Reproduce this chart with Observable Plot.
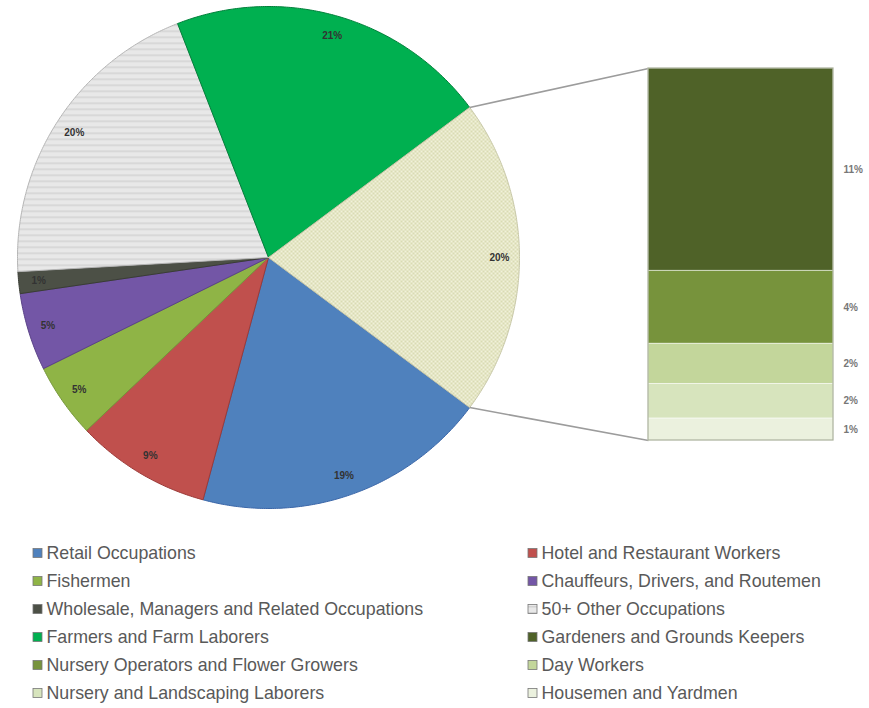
<!DOCTYPE html>
<html><head><meta charset="utf-8">
<script src="https://cdn.jsdelivr.net/npm/d3@7"></script>
<script src="https://cdn.jsdelivr.net/npm/@observablehq/plot@0.6"></script>
<style>body{margin:0;background:#fff;} #chart svg{display:block}</style>
</head><body><div id="chart"></div>
<script>
// ---- data ----
const categories = [
  "Retail Occupations",
  "Hotel and Restaurant Workers",
  "Fishermen",
  "Chauffeurs, Drivers, and Routemen",
  "Wholesale, Managers and Related Occupations",
  "50+ Other Occupations",
  "Farmers and Farm Laborers",
  "Gardeners and Grounds Keepers",
  "Nursery Operators and Flower Growers",
  "Day Workers",
  "Nursery and Landscaping Laborers",
  "Housemen and Yardmen"
];
const shares = [19.0, 8.7, 4.8, 5.0, 1.4, 20.0, 20.7, 11.1, 4.0, 2.2, 1.9, 1.2];
const inSecondary = [false, false, false, false, false, false, false, true, true, true, true, true];
const colors = ["#4F81BD", "#C0504D", "#8FB446", "#7356A6", "#4C5046", "url(#stripes)", "#00B050",
                "#4F6228", "#77933C", "#C3D69B", "#D7E4BD", "#EBF1DE"];
const edgeColors = ["#3A66A8", "#9B3A38", "#75963A", "#5A4287", "#3A3D35", "#B5B5B5", "#00803A",
                    "#4F6228", "#77933C", "#C3D69B", "#D7E4BD", "#EBF1DE"];
const otherFill = "url(#dots)";
const otherEdge = "#C8C8A8";

// ---- layout ----
const W = 869, H = 708;
const cx = 268, cy = 257, R = 251;
const bar = {x1: 648, x2: 833, top: 68, bottom: 440};
const legend = {colX: [33, 528], textDx: 13, y0: 553, dy: 28};

// ---- derived geometry ----
const otherTotal = d3.sum(shares.filter((v, i) => inSecondary[i]));
const pieItems = categories.map((c, i) => ({c, v: shares[i], fill: colors[i], edge: edgeColors[i]}))
  .filter((d, i) => !inSecondary[i]);
pieItems.push({c: "Other", v: otherTotal, fill: otherFill, edge: otherEdge, other: true});
const total = d3.sum(pieItems, d => d.v);
const pt = (deg, r) => {
  const a = deg * Math.PI / 180;
  return {x: cx + r * Math.sin(a), y: cy - r * Math.cos(a)};
};
let a = 90 + otherTotal / total * 180;
const slices = [];
for (const d of pieItems) {
  const a0 = d.other ? 90 - otherTotal / total * 180 : a;
  const a1 = a0 + d.v / total * 360;
  if (!d.other) a = a1;
  const n = Math.max(2, Math.ceil((a1 - a0) / 0.5));
  const pts = [{x: cx, y: cy}];
  for (let k = 0; k <= n; k++) pts.push(pt(a0 + (a1 - a0) * k / n, R));
  pts.push({x: cx, y: cy});
  const lab = pt((a0 + a1) / 2, R * 0.92);
  slices.push({...d, a0, a1, pts, lx: lab.x, ly: lab.y, label: Math.round(d.v) + "%"});
}
const otherSlice = slices.find(s => s.other);
const pTop = pt(otherSlice.a0, R), pBot = pt(otherSlice.a1, R);
const links = [
  {x1: pTop.x, y1: pTop.y, x2: bar.x1, y2: bar.top},
  {x1: pBot.x, y1: pBot.y, x2: bar.x1, y2: bar.bottom}
];
const barScale = d3.scaleLinear().domain([0, otherTotal]).range([bar.top, bar.bottom]);
let cum = 0;
const barSegs = [];
categories.forEach((c, i) => {
  if (!inSecondary[i]) return;
  barSegs.push({c, x1: bar.x1, x2: bar.x2, y1: barScale(cum), y2: barScale(cum + shares[i]),
    fill: colors[i], lx: bar.x2 + 10, ly: barScale(cum + shares[i] / 2), label: Math.round(shares[i]) + "%"});
  cum += shares[i];
});
const legendItems = categories.map((c, i) => {
  const col = i % 2, row = Math.floor(i / 2);
  const x = legend.colX[col], y = legend.y0 + row * legend.dy;
  return {c, fill: colors[i], x1: x, x2: x + 9, y1: y - 4.5, y2: y + 4.5, tx: x + legend.textDx, ty: y};
});

const marks = [];
for (const s of slices) {
  marks.push(Plot.line(s.pts, {x: "x", y: "y", fill: s.fill, stroke: s.edge, strokeWidth: 1, curve: "linear"}));
}
marks.push(Plot.link(links, {x1: "x1", y1: "y1", x2: "x2", y2: "y2", stroke: "#9C9C9C", strokeWidth: 1.6}));
marks.push(Plot.rect(barSegs, {x1: "x1", x2: "x2", y1: "y1", y2: "y2", fill: "fill", stroke: "#FFFFFF", strokeOpacity: 0.5, strokeWidth: 1}));
marks.push(Plot.rect([{x1: bar.x1, x2: bar.x2, y1: bar.top, y2: bar.bottom}], {x1: "x1", x2: "x2", y1: "y1", y2: "y2", fill: "none", stroke: "#A9B09A", strokeWidth: 1.2}));
marks.push(Plot.text(slices, {x: "lx", y: "ly", text: "label", fill: "#333", fontSize: 10, fontWeight: "bold"}));
marks.push(Plot.text(barSegs, {x: "lx", y: "ly", text: "label", fill: "#777", fontSize: 10, fontWeight: "bold", textAnchor: "start"}));
marks.push(Plot.rect(legendItems, {x1: "x1", x2: "x2", y1: "y1", y2: "y2", fill: "fill", stroke: "#777", strokeWidth: 0.8}));
marks.push(Plot.text(legendItems, {x: "tx", y: "ty", text: "c", fill: "#595959", fontSize: 17.8, textAnchor: "start"}));

const chart = Plot.plot({
  width: W, height: H, margin: 0,
  x: {domain: [0, W], range: [0, W], axis: null},
  y: {domain: [0, H], range: [0, H], axis: null},
  color: {type: "identity"},
  style: {fontFamily: "Liberation Sans, Arial, sans-serif", background: "#fff"},
  marks
});
const svg = d3.select(chart);
const defs = svg.insert("defs", ":first-child");
const st = defs.append("pattern").attr("id", "stripes").attr("patternUnits", "userSpaceOnUse").attr("width", 6).attr("height", 6);
st.append("rect").attr("width", 6).attr("height", 6).attr("fill", "#E8E8E8");
st.append("rect").attr("y", 0).attr("width", 6).attr("height", 1.5).attr("fill", "#D2D2D2");
const dt = defs.append("pattern").attr("id", "dots").attr("patternUnits", "userSpaceOnUse").attr("width", 4).attr("height", 4);
dt.append("rect").attr("width", 4).attr("height", 4).attr("fill", "#F1F1DA");
dt.append("rect").attr("width", 2).attr("height", 2).attr("fill", "#D9DBB2");
dt.append("rect").attr("x", 2).attr("y", 2).attr("width", 2).attr("height", 2).attr("fill", "#D9DBB2");
document.getElementById("chart").appendChild(chart);
</script>
</body></html>
